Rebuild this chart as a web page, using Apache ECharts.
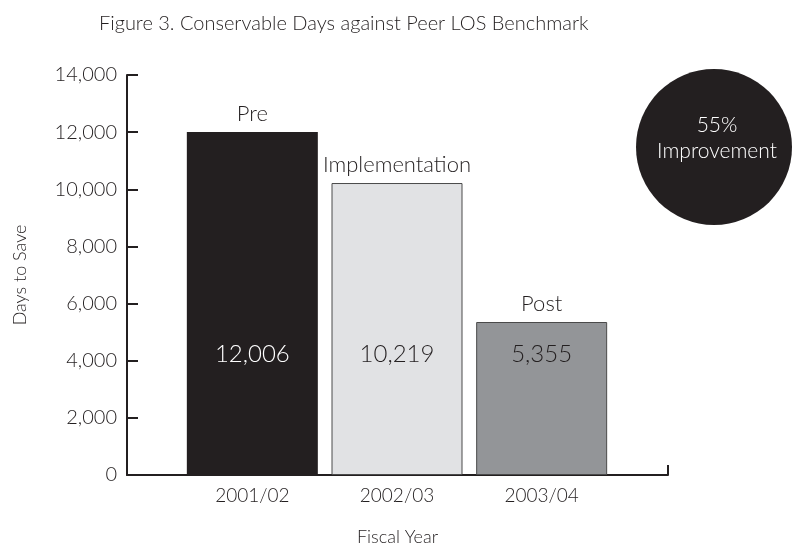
<!DOCTYPE html>
<html>
<head>
<meta charset="utf-8">
<script src="https://cdn.jsdelivr.net/npm/echarts@6/dist/echarts.min.js"></script>
<style>html,body{margin:0;padding:0;background:#fff;}#c{width:792px;height:553px;}</style>
</head>
<body>
<div id="c"></div>
<script>
var categories = ['2001/02', '2002/03', '2003/04'];
var phases = ['Pre', 'Implementation', 'Post'];
var values = [12006, 10219, 5355];
var barColors = ['#231f20', '#e1e2e4', '#939598'];
var barBorders = ['#231f20', '#4a4a4a', '#4a4a4a'];
var valueLabelColors = ['#ffffff', '#231f20', '#231f20'];
var yTicks = [0, 2000, 4000, 6000, 8000, 10000, 12000, 14000];
var improvementText = ['55%', 'Improvement'];

var FONT = 'Lato';
var W = 300;
var INK = '#231f20';

function fmt(v) { return v.toLocaleString('en-US'); }

var chart = echarts.init(document.getElementById('c'));
chart.setOption({
  backgroundColor: '#ffffff',
  animation: false,
  title: {
    text: 'Figure 3. Conservable Days against Peer LOS Benchmark',
    left: 99, top: 14, padding: 0,
    textStyle: { fontFamily: FONT, fontSize: 20, fontWeight: W, color: INK }
  },
  grid: [
    { left: 127, right: 124, top: 75, bottom: 78 },
    { left: 180, right: 178, top: 75, bottom: 78 }
  ],
  xAxis: [
    {
      type: 'value', gridIndex: 0, min: 0, max: 1, interval: 1,
      axisLine: { show: true, lineStyle: { color: INK, width: 2 } },
      axisTick: { show: true, inside: true, length: 10, lineStyle: { color: INK, width: 2 } },
      axisLabel: { show: false }, splitLine: { show: false },
      name: 'Fiscal Year', nameLocation: 'middle', nameGap: 53,
      nameTextStyle: { fontFamily: FONT, fontSize: 18, fontWeight: W, color: INK }
    },
    {
      type: 'category', gridIndex: 1, data: categories,
      axisLine: { show: false }, axisTick: { show: false },
      axisLabel: { margin: 11, fontFamily: FONT, fontSize: 19, fontWeight: W, color: INK }
    }
  ],
  yAxis: [
    {
      type: 'value', gridIndex: 0, min: 0, max: 14000, interval: 2000,
      axisLine: { show: true, lineStyle: { color: INK, width: 2 } },
      axisTick: { show: true, inside: true, length: 11, lineStyle: { color: INK, width: 2 } },
      axisLabel: { margin: 10, fontFamily: FONT, fontSize: 20, fontWeight: W, color: INK, formatter: function (v) { return fmt(v); } },
      splitLine: { show: false },
      name: 'Days to Save', nameLocation: 'middle', nameGap: 98, nameRotate: 90,
      nameTextStyle: { fontFamily: FONT, fontSize: 18, fontWeight: W, color: INK }
    },
    {
      type: 'value', gridIndex: 1, min: 0, max: 14000, interval: 2000, show: false
    }
  ],
  series: [
    {
      type: 'bar', xAxisIndex: 1, yAxisIndex: 1, barWidth: 131, barGap: '-100%',
      data: values.map(function (v, i) {
        return {
          value: v,
          itemStyle: { color: barColors[i], borderColor: barBorders[i], borderWidth: i === 0 ? 0 : 1 }
        };
      }),
      label: {
        show: true, position: 'top', distance: 7,
        fontFamily: FONT, fontSize: 22, fontWeight: W, color: INK,
        formatter: function (p) { return phases[p.dataIndex]; }
      }
    },
    {
      type: 'bar', xAxisIndex: 1, yAxisIndex: 1, barWidth: 131, barGap: '-100%', silent: true,
      data: values.map(function (v, i) {
        return {
          value: v,
          itemStyle: { color: 'rgba(0,0,0,0)' },
          label: { color: valueLabelColors[i] }
        };
      }),
      label: {
        show: true, position: 'insideBottom', distance: 109,
        fontFamily: FONT, fontSize: 24, fontWeight: W,
        formatter: function (p) { return fmt(p.value); }
      }
    }
  ],
  graphic: [
    { type: 'circle', shape: { cx: 714, cy: 147, r: 78 }, style: { fill: INK }, z: 10 },
    {
      type: 'text', x: 717, y: 138, z: 11,
      style: {
        text: improvementText.join('\n'), fill: '#ffffff', font: '300 21px Lato',
        align: 'center', verticalAlign: 'middle', lineHeight: 26
      }
    }
  ]
});
</script>
</body>
</html>
